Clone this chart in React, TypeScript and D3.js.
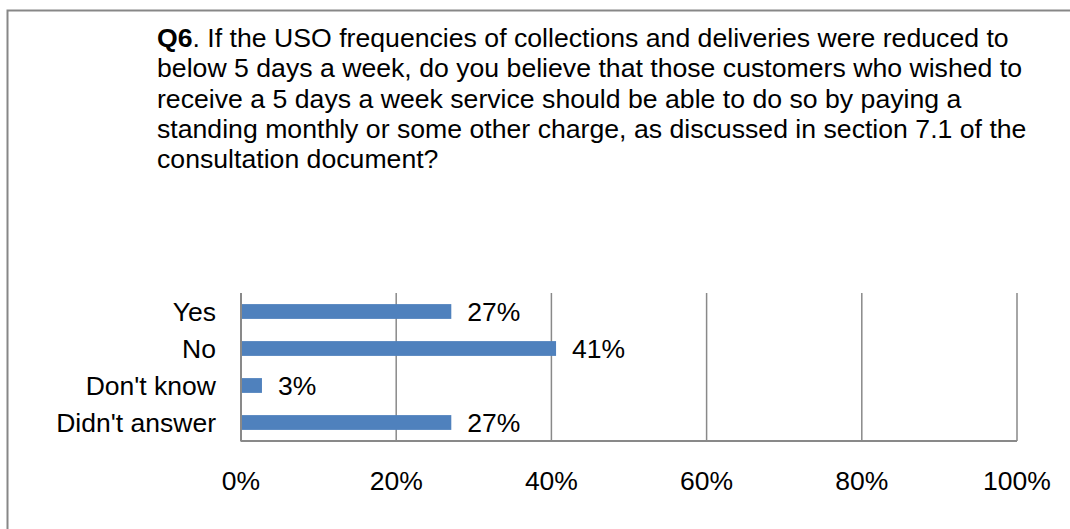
import { useRef, useEffect } from 'react'
import * as d3 from 'd3'

// answers to Q6, share of respondents (%)
const categories = ["Yes", "No", "Don't know", "Didn't answer"]
const values = [27.1, 40.6, 2.7, 27.1]
const ticks = [0, 20, 40, 60, 80, 100]

const titleLines = [
  "If the USO frequencies of collections and deliveries were reduced to",
  "below 5 days a week, do you believe that those customers who wished to",
  "receive a 5 days a week service should be able to do so by paying a",
  "standing monthly or some other charge, as discussed in section 7.1 of the",
  "consultation document?",
]

const width = 1070
const height = 529
const font = "'Liberation Sans', Arial, sans-serif"
// the original text renders a touch wider than Liberation Sans
const stretch = 1.02

export default function App() {
  const svgRef = useRef<SVGSVGElement>(null)

  useEffect(() => {
    if (!svgRef.current) return
    const svg = d3.select(svgRef.current)
    svg.selectAll("*").remove()

    // outer frame, runs off the right and bottom edges
    svg.append("rect")
      .attr("x", 7.5)
      .attr("y", 10.5)
      .attr("width", 1200)
      .attr("height", 700)
      .attr("fill", "white")
      .attr("stroke", "#878787")
      .attr("stroke-width", 2)

    // title
    const title = svg.append("text")
      .attr("transform", "translate(157,0) scale(1.045,1)")
      .attr("font-family", font)
      .attr("font-size", 25.5)
      .attr("fill", "black")
    titleLines.forEach((line, i) => {
      const t = title.append("tspan")
        .attr("x", 0)
        .attr("y", 47 + i * 30.3)
      if (i === 0) {
        t.append("tspan").attr("font-weight", "bold").text("Q6")
        t.append("tspan").text(". " + line)
      } else {
        t.text(line)
      }
    })

    const x = d3.scaleLinear().domain([0, 100]).range([241, 1017])
    const y = d3.scaleBand<string>()
      .domain(categories)
      .range([293, 441])
      .paddingInner(0.6)
      .paddingOuter(0.3)

    // vertical gridlines
    svg.append("g")
      .selectAll("line")
      .data(ticks.slice(1))
      .enter()
      .append("line")
      .attr("x1", d => x(d))
      .attr("x2", d => x(d))
      .attr("y1", 293)
      .attr("y2", 441)
      .attr("stroke", "#898989")
      .attr("stroke-width", 1.5)

    // bars
    svg.append("g")
      .selectAll("rect")
      .data(values)
      .enter()
      .append("rect")
      .attr("x", x(0))
      .attr("y", (d, i) => y(categories[i])!)
      .attr("width", d => x(d) - x(0))
      .attr("height", y.bandwidth())
      .attr("fill", "#4F81BD")

    // value labels
    svg.append("g")
      .selectAll("text")
      .data(values)
      .enter()
      .append("text")
      .attr("transform", (d, i) =>
        `translate(${x(d) + 16},${y(categories[i])! + y.bandwidth() / 2 + 9.5}) scale(${stretch},1)`)
      .attr("font-family", font)
      .attr("font-size", 26)
      .attr("fill", "black")
      .text(d => `${Math.round(d)}%`)

    // axis lines
    svg.append("line")
      .attr("x1", x(0)).attr("x2", x(0))
      .attr("y1", 293).attr("y2", 441.5)
      .attr("stroke", "#898989").attr("stroke-width", 2)
    svg.append("line")
      .attr("x1", x(0)).attr("x2", x(100))
      .attr("y1", 441).attr("y2", 441)
      .attr("stroke", "#898989").attr("stroke-width", 2)

    // category labels
    svg.append("g")
      .selectAll("text")
      .data(categories)
      .enter()
      .append("text")
      .attr("transform", d =>
        `translate(216,${y(d)! + y.bandwidth() / 2 + 9.5}) scale(${stretch},1)`)
      .attr("text-anchor", "end")
      .attr("font-family", font)
      .attr("font-size", 26)
      .attr("fill", "black")
      .text(d => d)

    // x tick labels
    svg.append("g")
      .selectAll("text")
      .data(ticks)
      .enter()
      .append("text")
      .attr("transform", d => `translate(${x(d)},490) scale(${stretch},1)`)
      .attr("text-anchor", "middle")
      .attr("font-family", font)
      .attr("font-size", 26)
      .attr("fill", "black")
      .text(d => `${d}%`)
  }, [])

  return (
    <svg
      ref={svgRef}
      width={width}
      height={height}
      style={{ position: 'absolute', left: 0, top: 0, background: 'white' }}
    />
  )
}
